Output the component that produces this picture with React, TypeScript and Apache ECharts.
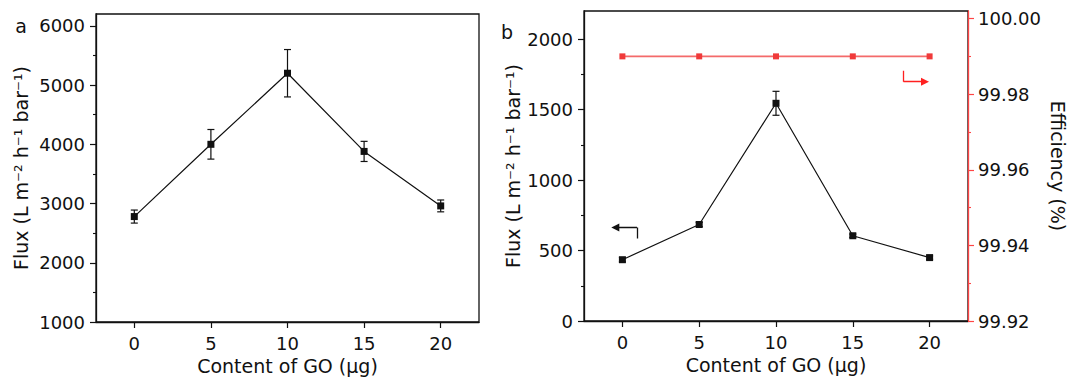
import React, { useEffect, useRef } from "react";
import * as echarts from "echarts";

const FONT = "DejaVu Sans, Liberation Sans, sans-serif";
const INK = "#111111";
const RED_AXIS = "#ff4545";
const RED_LINE = "#f46a6a";
const RED_MARK = "#f03a3a";
const RED_ARROW = "#ff2020";

// x values (content of GO, µg) and tick labels
const goContent = [0, 5, 10, 15, 20];
const xTickValues = [0, 5, 10, 15, 20];

// panel a
const fluxA = [2780, 4000, 5200, 3880, 2960];
const fluxAErr = [110, 250, 400, 170, 100];
const fluxATicks = [1000, 2000, 3000, 4000, 5000, 6000];
const fluxAMinorTicks = [1500, 2500, 3500, 4500, 5500];

// panel b
const fluxB = [435, 685, 1545, 605, 450];
const fluxBErr = [15, 15, 85, 12, 12];
const fluxBTicks = [0, 500, 1000, 1500, 2000];
const fluxBMinorTicks = [250, 750, 1250, 1750];

const efficiencyB = [99.99, 99.99, 99.99, 99.99, 99.99];
const effTicks = [99.92, 99.94, 99.96, 99.98, 100.0];
const effMinorTicks = [99.93, 99.95, 99.97, 99.99];

// annotation arrows (data coordinates)
const fluxArrow = [
  [0.95, 586],
  [0.95, 664],
  [-0.46, 664],
];
const effArrow = [
  [18.3, 99.9862],
  [18.3, 99.9833],
  [19.7, 99.9833],
];

const Y_TITLE = "Flux (L m\u207B\u00B2 h\u207B\u00B9 bar\u207B\u00B9)";
const TICK_FONT = 18;
const NAME_FONT = 19;

function errRender(capHalf: number) {
  return (params: any, api: any) => {
    const x = api.value(0);
    const lo = api.value(1);
    const hi = api.value(2);
    const pHi = api.coord([x, hi]);
    const pLo = api.coord([x, lo]);
    const style = { stroke: INK, lineWidth: 1.2 };
    return {
      type: "group",
      children: [
        { type: "line", shape: { x1: pHi[0], y1: pHi[1], x2: pLo[0], y2: pLo[1] }, style },
        { type: "line", shape: { x1: pHi[0] - capHalf, y1: pHi[1], x2: pHi[0] + capHalf, y2: pHi[1] }, style },
        { type: "line", shape: { x1: pLo[0] - capHalf, y1: pLo[1], x2: pLo[0] + capHalf, y2: pLo[1] }, style },
      ],
    };
  };
}

function xAxis(gridIndex: number) {
  return {
    type: "value",
    gridIndex,
    min: -2.5,
    max: 22.5,
    name: "Content of GO (\u03BCg)",
    nameLocation: "middle",
    nameGap: 29,
    nameTextStyle: { fontFamily: FONT, fontSize: NAME_FONT, color: INK },
    axisLine: { show: true, onZero: false, lineStyle: { color: INK, width: 1.3 } },
    axisTick: { show: true, length: 6, customValues: xTickValues, lineStyle: { color: INK, width: 1.2 } },
    axisLabel: {
      customValues: xTickValues,
      margin: 12,
      fontFamily: FONT,
      fontSize: TICK_FONT,
      color: INK,
      formatter: (v: number) => String(v),
    },
    splitLine: { show: false },
  };
}

function yMajor(
  gridIndex: number,
  position: string,
  min: number,
  max: number,
  ticks: number[],
  color: string,
  extra: any
) {
  return {
    type: "value",
    gridIndex,
    position,
    min,
    max,
    axisLine: { show: true, onZero: false, lineStyle: { color, width: 1.3 } },
    axisTick: { show: true, length: 6, customValues: ticks, lineStyle: { color, width: 1.2 } },
    axisLabel: {
      customValues: ticks,
      margin: 11,
      fontFamily: FONT,
      fontSize: TICK_FONT,
      color: INK,
      formatter: (v: number) => String(v),
    },
    splitLine: { show: false },
    ...extra,
  };
}

function yMinor(gridIndex: number, position: string, min: number, max: number, ticks: number[], color: string) {
  return {
    type: "value",
    gridIndex,
    position,
    min,
    max,
    axisLine: { show: false, onZero: false },
    axisTick: { show: true, length: 3, customValues: ticks, lineStyle: { color, width: 1.1 } },
    axisLabel: { show: false },
    splitLine: { show: false },
  };
}

function arrowSeries(coords: number[][], yAxisIndex: number, color: string) {
  return [
    {
      type: "lines",
      coordinateSystem: "cartesian2d",
      xAxisIndex: 1,
      yAxisIndex,
      symbol: ["none", "none"],
      lineStyle: { color, width: 1.3, opacity: 1, curveness: 0 },
      data: [{ coords: [coords[0], coords[1]] }],
      z: 5,
    },
    {
      type: "lines",
      coordinateSystem: "cartesian2d",
      xAxisIndex: 1,
      yAxisIndex,
      symbol: ["none", "triangle"],
      symbolSize: 8,
      lineStyle: { color, width: 1.3, opacity: 1, curveness: 0 },
      itemStyle: { color },
      data: [{ coords: [coords[1], coords[2]] }],
      z: 5,
    },
  ];
}

export default function App() {
  const ref = useRef<HTMLDivElement>(null);

  useEffect(() => {
    if (!ref.current) return;
    const chart = echarts.init(ref.current, undefined, { renderer: "svg" });

    const option: any = {
      animation: false,
      backgroundColor: "#ffffff",
      textStyle: { fontFamily: FONT },
      grid: [
        { left: 96, top: 14, width: 383, height: 308, show: true, borderColor: INK, borderWidth: 1.3, backgroundColor: "transparent" },
        { left: 584, top: 11, width: 384, height: 310, show: true, borderColor: INK, borderWidth: 1.3, backgroundColor: "transparent" },
      ],
      xAxis: [xAxis(0), xAxis(1)],
      yAxis: [
        yMajor(0, "left", 1000, 6200, fluxATicks, INK, {
          name: Y_TITLE,
          nameLocation: "middle",
          nameRotate: 90,
          nameGap: 66,
          nameTextStyle: { fontFamily: FONT, fontSize: NAME_FONT, color: INK },
        }),
        yMinor(0, "left", 1000, 6200, fluxAMinorTicks, INK),
        yMajor(1, "left", 0, 2200, fluxBTicks, INK, {
          name: Y_TITLE,
          nameLocation: "middle",
          nameRotate: 90,
          nameGap: 62,
          nameTextStyle: { fontFamily: FONT, fontSize: NAME_FONT, color: INK },
        }),
        yMinor(1, "left", 0, 2200, fluxBMinorTicks, INK),
        yMajor(1, "right", 99.92, 100.002, effTicks, RED_AXIS, {
          name: "Efficiency (%)",
          nameLocation: "middle",
          nameRotate: -90,
          nameGap: 80,
          nameTextStyle: { fontFamily: FONT, fontSize: NAME_FONT, color: INK },
          axisLabel: {
            customValues: effTicks,
            margin: 10,
            fontFamily: FONT,
            fontSize: TICK_FONT,
            color: INK,
            formatter: (v: number) => v.toFixed(2),
          },
          z: 4,
        }),
        yMinor(1, "right", 99.92, 100.002, effMinorTicks, RED_AXIS),
      ],
      graphic: [
        { type: "text", x: 21, y: 26, style: { text: "a", fontFamily: FONT, fontSize: 19, fill: INK, align: "center", verticalAlign: "middle" } },
        { type: "text", x: 507, y: 32, style: { text: "b", fontFamily: FONT, fontSize: 19, fill: INK, align: "center", verticalAlign: "middle" } },
      ],
      series: [
        {
          type: "custom",
          xAxisIndex: 0,
          yAxisIndex: 0,
          renderItem: errRender(3.5),
          encode: { x: 0, y: [1, 2] },
          data: goContent.map((x, i) => [x, fluxA[i] - fluxAErr[i], fluxA[i] + fluxAErr[i]]),
          z: 2,
        },
        {
          type: "line",
          xAxisIndex: 0,
          yAxisIndex: 0,
          data: goContent.map((x, i) => [x, fluxA[i]]),
          symbol: "rect",
          symbolSize: 7,
          itemStyle: { color: INK },
          lineStyle: { color: INK, width: 1.2 },
          z: 3,
        },
        {
          type: "custom",
          xAxisIndex: 1,
          yAxisIndex: 2,
          renderItem: errRender(3.5),
          encode: { x: 0, y: [1, 2] },
          data: goContent.map((x, i) => [x, fluxB[i] - fluxBErr[i], fluxB[i] + fluxBErr[i]]),
          z: 2,
        },
        {
          type: "line",
          xAxisIndex: 1,
          yAxisIndex: 2,
          data: goContent.map((x, i) => [x, fluxB[i]]),
          symbol: "rect",
          symbolSize: 7,
          itemStyle: { color: INK },
          lineStyle: { color: INK, width: 1.2 },
          z: 3,
        },
        {
          type: "line",
          xAxisIndex: 1,
          yAxisIndex: 4,
          data: goContent.map((x, i) => [x, efficiencyB[i]]),
          symbol: "rect",
          symbolSize: 6,
          itemStyle: { color: RED_MARK },
          lineStyle: { color: RED_LINE, width: 1.6 },
          z: 3,
        },
        ...arrowSeries(fluxArrow, 2, INK),
        ...arrowSeries(effArrow, 4, RED_ARROW),
      ],
    };

    chart.setOption(option);
    return () => chart.dispose();
  }, []);

  return (
    <div
      ref={ref}
      style={{ position: "fixed", left: 0, top: 0, width: 1080, height: 391, background: "#fff" }}
    />
  );
}
